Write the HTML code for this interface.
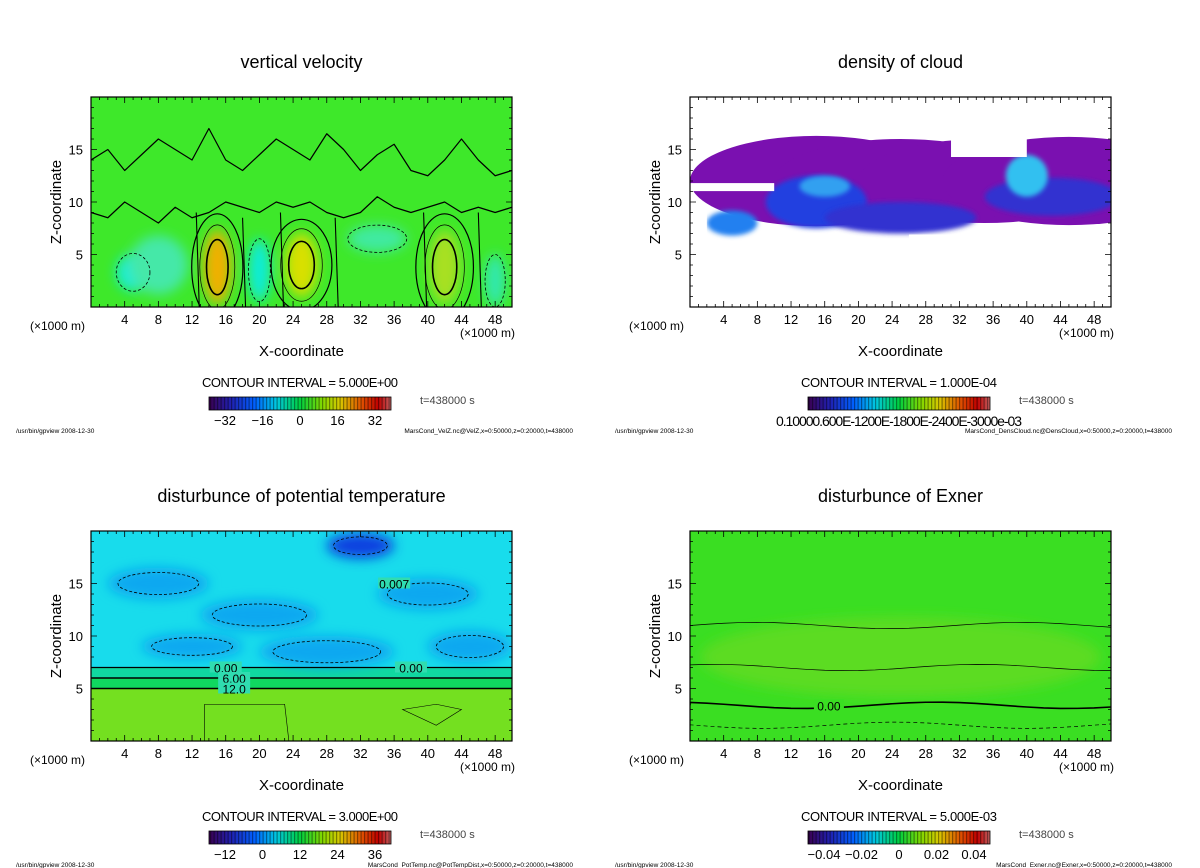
<!DOCTYPE html>
<html><head><meta charset="utf-8">
<style>
body{margin:0;background:#fff;width:1200px;height:868px;overflow:hidden;font-family:"Liberation Sans",sans-serif}
svg{position:absolute;left:0;top:0}
</style></head>
<body>
<svg id="c" width="1200" height="868" xmlns="http://www.w3.org/2000/svg">
<defs>
<filter id="bl" x="-50%" y="-50%" width="200%" height="200%"><feGaussianBlur stdDeviation="6"/></filter>
<filter id="bs" x="-50%" y="-50%" width="200%" height="200%"><feGaussianBlur stdDeviation="2.5"/></filter>
<linearGradient id="rb" x1="0" x2="1">
<stop offset="0" stop-color="#3a0050"/><stop offset="0.12" stop-color="#2020b0"/><stop offset="0.25" stop-color="#0060ff"/><stop offset="0.37" stop-color="#00c8e0"/><stop offset="0.5" stop-color="#00d040"/><stop offset="0.62" stop-color="#80d800"/><stop offset="0.72" stop-color="#d8c800"/><stop offset="0.84" stop-color="#e05000"/><stop offset="0.93" stop-color="#c00000"/><stop offset="1" stop-color="#c06060"/></linearGradient>
<pattern id="st" width="3.5" height="20" patternUnits="userSpaceOnUse"><rect width="1.2" height="20" fill="rgba(0,0,0,0.4)"/></pattern>
</defs>
</svg>
<script>
// ---- data (contour-field features, x in km, z in km) ----
const xTicks=[4,8,12,16,20,24,28,32,36,40,44,48];
const zTicks=[5,10,15];
const titles=["vertical velocity","density of cloud","disturbunce of potential temperature","disturbunce of Exner"];
const intervals=["5.000E+00","1.000E-04","3.000E+00","5.000E-03"];
const cbLabels=[["-32","-16","0","16","32"],["0.1000e-03"],["-12","0","12","24","36"],["-0.04","-0.02","0","0.02","0.04"]];
const files=["MarsCond_VelZ.nc@VelZ,x=0:50000,z=0:20000,t=438000","MarsCond_DensCloud.nc@DensCloud,x=0:50000,z=0:20000,t=438000","MarsCond_PotTemp.nc@PotTempDist,x=0:50000,z=0:20000,t=438000","MarsCond_Exner.nc@Exner,x=0:50000,z=0:20000,t=438000"];
// velocity blobs
const velX=[15,25,42,5,20,48,34,8];
const velZ=[3.8,4,3.8,3.3,3.5,2.5,6.5,4];
const velRX=[1.6,1.9,1.8,2,1.3,1.2,3.5,3.5];
const velRZ=[3.5,3,3.5,1.8,3,2.5,1.3,2.8];
const velC=["#f0b000","#d8e000","#a8e020","#18ecd8","#10ecd8","#30e8b0","#40eaa0","#44e8a8"];
// velocity zero-contour baseline heights along x (every 2 km)
const vz1=[9,8.5,10,9,8,9.5,8.5,9,10,9.5,9,10,9.5,10,9,8.5,9,10.5,9.5,9,9.5,10,9,9.5,9,9.5];
const vz2=[14,15,13,14.5,16,15,14,17,14,13,14.5,16,15,14,16.5,15,13,14.5,15.5,13,12.5,14,16,14,12.5,13];
// cloud layers
const cldX=[15,25,35,45,15,25,43,16,40,5];
const cldZ=[12,12,12,12,10,8.5,10.5,11.5,12.5,8];
const cldRX=[15,15,15,15,6,9,8,3,2.5,3];
const cldRZ=[4.3,4,4,4.2,2.5,1.5,1.8,1,2,1.2];
const cldC=["#7a10b0","#7a10b0","#7a10b0","#7a10b0","#2040e0","#3030d0","#3030d0","#30a0f0","#30c0f0","#2080f0"];
// potential temperature features
const ptX=[32,8,20,40,28,12,45];
const ptZ=[18.6,15,12,14,8.5,9,9];
const ptRX=[4,6,7,6,8,6,5];
const ptRZ=[1.2,1.5,1.5,1.5,1.5,1.2,1.5];
// exner contour heights
const exZ=[11,7,3.4,1.5];

const svg=document.getElementById('c');
const NS="http://www.w3.org/2000/svg";
function el(t,a,p){const e=document.createElementNS(NS,t);for(const k in a)e.setAttribute(k,a[k]);(p||svg).appendChild(e);return e;}
function txt(s,a,p){const e=el('text',a,p);e.textContent=s;return e;}

const panels=[[91,97],[690,97],[91,531],[690,531]];
const W=421,H=210;
panels.forEach((pp,i)=>{
 const x0=pp[0],y0=pp[1];
 const sx=v=>x0+v*W/50, sy=v=>y0+H-v*H/20;
 const g=el('g',{});
 
 
 const cp=el('clipPath',{id:'cp'+i},svg);el('rect',{x:x0,y:y0,width:W,height:H},cp);
 const f=el('g',{'clip-path':'url(#cp'+i+')'},g);
 
 
 if(i===0){
  el('rect',{x:x0,y:y0,width:W,height:H,fill:'#3ee82a'},f);
  const bg=el('g',{filter:'url(#bl)'},f);
  velX.forEach((v,k)=>el('ellipse',{cx:sx(v),cy:sy(velZ[k]),rx:velRX[k]*W/50,ry:velRZ[k]*H/20,fill:velC[k]},bg));
  velX.forEach((v,k)=>{
   if(k<3){el('ellipse',{cx:sx(v),cy:sy(velZ[k]),rx:velRX[k]*W/50*1.3,ry:velRZ[k]*H/20*1.15,fill:'none',stroke:'#000','stroke-width':0.7},f);
    el('ellipse',{cx:sx(v),cy:sy(velZ[k]),rx:velRX[k]*W/50*0.8,ry:velRZ[k]*H/20*0.75,fill:'none',stroke:'#000','stroke-width':1.6},f);
    el('ellipse',{cx:sx(v),cy:sy(velZ[k]),rx:velRX[k]*W/50*1.9,ry:velRZ[k]*H/20*1.45,fill:'none',stroke:'#000','stroke-width':1.2},f);}
   else if(k<7) el('ellipse',{cx:sx(v),cy:sy(velZ[k]),rx:velRX[k]*W/50,ry:velRZ[k]*H/20,fill:'none',stroke:'#000','stroke-width':0.8,'stroke-dasharray':'3,2'},f);
  });
  [vz1,vz2].forEach(arr=>{let d='';arr.forEach((z,k)=>{d+=(k?' L':'M')+sx(k*2)+','+sy(z);}); el('path',{d:d,fill:'none',stroke:'#000','stroke-width':1.2,'stroke-linejoin':'round'},f);});
  [[sx(18),sy(8.5),sy(0)],[sx(12.5),sy(9),sy(0)],[sx(22.5),sy(9),sy(0)],[sx(29),sy(8.5),sy(0)],[sx(39.5),sy(9),sy(0)],[sx(46),sy(9),sy(0)]].forEach(l=>el('path',{d:`M${l[0]},${l[1]} L${l[0]+3},${l[2]}`,stroke:'#000','stroke-width':1.1},f));
 } else if(i===1){
  el('rect',{x:x0,y:y0,width:W,height:H,fill:'#fff'},f);
  cldX.forEach((v,k)=>el('ellipse',{cx:sx(v),cy:sy(cldZ[k]),rx:cldRX[k]*W/50,ry:cldRZ[k]*H/20,fill:cldC[k],filter:k<4?'':'url(#bs)'},f));
  el('rect',{x:sx(0),y:sy(11.8),width:sx(10)-sx(0),height:8,fill:'#fff'},f);
  el('rect',{x:sx(0),y:sy(9.8),width:sx(2)-sx(0),height:40,fill:'#fff'},f);
  el('rect',{x:sx(26),y:sy(6.9),width:sx(50)-sx(26),height:80,fill:'#fff'},f);
  el('rect',{x:sx(31),y:sy(16),width:sx(40)-sx(31),height:18,fill:'#fff'},f);
  el('rect',{x:sx(42),y:sy(7.5),width:sx(50)-sx(42),height:10,fill:'#fff'},f);
 } else if(i===2){
  el('rect',{x:x0,y:y0,width:W,height:H,fill:'#18dcec'},f);
  el('rect',{x:x0,y:sy(5),width:W,height:sy(0)-sy(5),fill:'#74e020'},f);
  el('rect',{x:x0,y:sy(6),width:W,height:sy(5)-sy(6),fill:'#10d860'},f);
  el('rect',{x:x0,y:sy(7),width:W,height:sy(6)-sy(7),fill:'#10d8a0'},f);
  const bg=el('g',{filter:'url(#bl)'},f);
  ptX.forEach((v,k)=>el('ellipse',{cx:sx(v),cy:sy(ptZ[k]),rx:ptRX[k]*W/50,ry:ptRZ[k]*H/20,fill:k===0?'#0840e0':'#10a8f0'},bg));
  ptX.forEach((v,k)=>el('ellipse',{cx:sx(v),cy:sy(ptZ[k]),rx:ptRX[k]*W/50*0.8,ry:ptRZ[k]*H/20*0.7,fill:'none',stroke:'#000','stroke-width':0.8,'stroke-dasharray':'3,2'},f));
  [[7,1.2],[6,1.5],[5,1.5]].forEach(c=>el('path',{d:'M'+x0+','+sy(c[0])+' L'+(x0+W)+','+sy(c[0]),stroke:'#000','stroke-width':c[1]},f));
  el('path',{d:`M${sx(13.5)},${sy(0)} L${sx(13.5)},${sy(3.5)} L${sx(23)},${sy(3.5)} L${sx(23.5)},${sy(0)}`,fill:'none',stroke:'#000','stroke-width':0.6},f);
  el('path',{d:`M${sx(37)},${sy(3)} L${sx(41)},${sy(3.5)} L${sx(44)},${sy(3)} L${sx(41)},${sy(1.5)} Z`,fill:'none',stroke:'#000','stroke-width':0.6},f);
  [['0.00',16,7],['6.00',17,6],['12.0',17,5],['0.00',38,7],['0.007',36,15]].forEach(l=>{el('rect',{x:sx(l[1])-16,y:sy(l[2])-6,width:32,height:11,fill:'#30dcb0'},f);txt(l[0],{x:sx(l[1]),y:sy(l[2])+5,'font-size':12,'text-anchor':'middle'},f)});
 } else {
  el('rect',{x:x0,y:y0,width:W,height:H,fill:'#3ade22'},f);
  el('ellipse',{cx:sx(25),cy:sy(8),rx:200,ry:40,fill:'#5cdc22',filter:'url(#bl)'},f);
  exZ.forEach((z,k)=>{let d='M'+x0+','+sy(z);for(let q=0;q<=50;q+=2)d+=' L'+sx(q)+','+sy(z+0.3*Math.sin(q/5+k));
   el('path',{d:d,fill:'none',stroke:'#000','stroke-width':k===2?1.6:0.7,'stroke-dasharray':k===3?'4,3':''},f)});
  el('rect',{x:sx(16.5)-15,y:sy(3.4)-6,width:30,height:11,fill:'#3ade22'},f);
  txt('0.00',{x:sx(16.5),y:sy(3.4)+5,'font-size':12,'text-anchor':'middle'},f);
 }
 el('rect',{x:x0,y:y0,width:W,height:H,fill:'none',stroke:'#000','stroke-width':1.2},g);
 for(let q=1;q<50;q++){const L=q%4===0?6:3;el('path',{d:`M${sx(q)},${y0+H}v${-L}M${sx(q)},${y0}v${L}`,stroke:'#000','stroke-width':0.8},g)}
 for(let q=1;q<20;q++){const L=q%5===0?6:3;el('path',{d:`M${x0},${sy(q)}h${L}M${x0+W},${sy(q)}h${-L}`,stroke:'#000','stroke-width':0.8},g)}
 xTicks.forEach(t=>{const e=txt(t,{x:sx(t),y:y0+H+17,'font-size':13,'text-anchor':'middle'},g);});
 zTicks.forEach(t=>{const e=txt(t,{x:x0-8,y:sy(t)+5,'font-size':13,'text-anchor':'end'},g);});
 const cx=x0+W/2;
 const tt=txt(titles[i],{x:cx,y:y0-29,'font-size':18,'text-anchor':'middle'},g);
 const xl=txt('X-coordinate',{x:cx,y:y0+H+49,'font-size':15,'text-anchor':'middle'},g);
 const zl=txt('Z-coordinate',{x:x0-30,y:y0+H/2,'font-size':15,'text-anchor':'middle',transform:`rotate(-90 ${x0-30} ${y0+H/2})`},g);
 txt('(×1000 m)',{x:x0-61,y:y0+H+23,'font-size':12},g);
 txt('(×1000 m)',{x:x0+W+3,y:y0+H+30,'font-size':12,'text-anchor':'end'},g);
 const ci=txt('CONTOUR INTERVAL = '+intervals[i],{x:x0+209,y:y0+290,'font-size':13,'text-anchor':'middle',textLength:196},g);
 const cb=el('g',{},g);
 el('rect',{x:x0+118,y:y0+300,width:182,height:13,fill:'url(#rb)'},cb);
 el('rect',{x:x0+118,y:y0+300,width:182,height:13,fill:'url(#st)',stroke:'#000','stroke-width':0.8},cb);
 const labs=cbLabels[i];
 if(labs.length>1)labs.forEach((l,k)=>txt(l.replace('-','−'),{x:x0+134+k*37.5,y:y0+328,'font-size':13,'text-anchor':'middle'},cb));
 else txt('0.10000.600E-1200E-1800E-2400E-3000e-03',{x:x0+209,y:y0+329,'font-size':14,'text-anchor':'middle',textLength:246},cb);
 txt('t=438000  s',{x:x0+329,y:y0+307,'font-size':11,fill:'#444'},g);
 txt('/usr/bin/gpview   2008-12-30',{x:x0-75,y:y0+336,'font-size':6.5},g);
 txt(files[i],{x:x0+482,y:y0+336,'font-size':6.5,'text-anchor':'end'},g);
});
</script>
</body></html>
